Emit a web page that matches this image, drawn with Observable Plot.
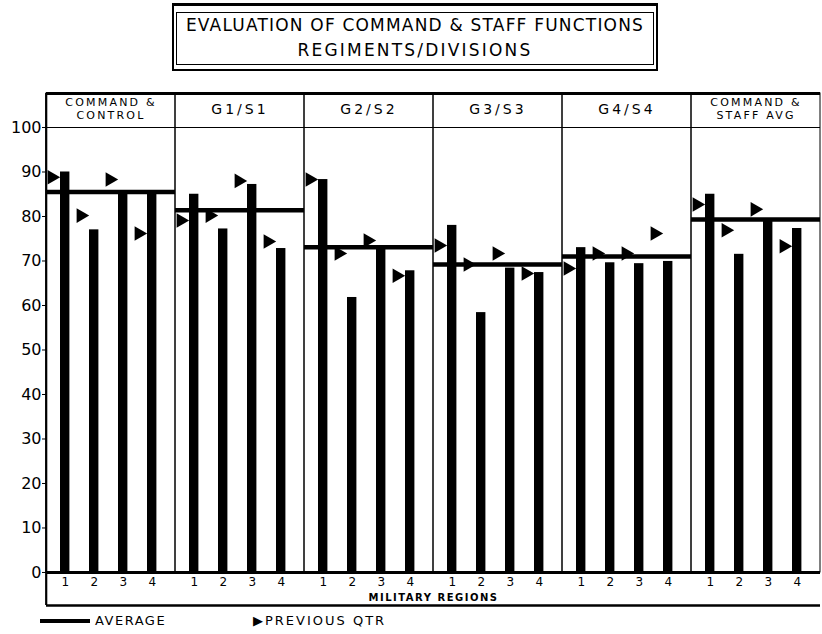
<!DOCTYPE html>
<html>
<head>
<meta charset="utf-8">
<script src="https://cdn.jsdelivr.net/npm/d3@7"></script>
<script src="https://cdn.jsdelivr.net/npm/@observablehq/plot@0.6"></script>
<style>
  html, body { margin: 0; padding: 0; background: #fff; }
  body { width: 822px; height: 634px; position: relative; overflow: hidden; font-family: "DejaVu Sans", sans-serif; color: #000; }
  #title { position: absolute; left: 172px; top: 3px; width: 486px; height: 68px; box-sizing: border-box; border: 2px solid #000; border-top-width: 3px; }
  #title .inner { position: absolute; left: 2px; right: 2px; top: 6px; bottom: 4px; border: 1px solid #000; }
  #title .l { position: absolute; left: 0; right: 0; text-align: center; font-size: 17px; line-height: 20px; white-space: nowrap; }
  #chart { position: absolute; left: 0; top: 75px; }
  #legend { position: absolute; left: 0; top: 612px; width: 822px; height: 20px; font-size: 13px; }
  #legend .line { position: absolute; left: 40px; top: 7px; width: 50px; height: 4px; background: #000; }
  #legend .t { position: absolute; top: 0; line-height: 18px; letter-spacing: 1.5px; white-space: nowrap; }
  [aria-description="panel-g"] text { letter-spacing: 3px; }
  [aria-description="panel-two-line"] text { letter-spacing: 2.2px; }
  [aria-description="region-axis-label"] text { letter-spacing: 1.5px; }
</style>
</head>
<body>
<div id="title"><div class="inner">
  <div class="l" style="top:2px;letter-spacing:1.2px">EVALUATION OF COMMAND &amp; STAFF FUNCTIONS</div>
  <div class="l" style="top:27px;letter-spacing:2.2px">REGIMENTS/DIVISIONS</div>
</div></div>
<div id="chart"></div>
<div id="legend">
  <div class="line"></div>
  <div class="t" style="left:95px">AVERAGE</div>
  <div class="t" style="left:253px;letter-spacing:2px">&#9654;PREVIOUS QTR</div>
</div>
<script>
// ---- data ----
const panels = ["COMMAND & CONTROL", "G1/S1", "G2/S2", "G3/S3", "G4/S4", "COMMAND & STAFF AVG"];
const panelHeaders = ["COMMAND &\nCONTROL", "G1/S1", "G2/S2", "G3/S3", "G4/S4", "COMMAND &\nSTAFF AVG"];
const regions = ["1", "2", "3", "4"];
const current = [
  [90, 77, 85.8, 85.8],
  [85, 77.2, 87.2, 72.8],
  [88.3, 61.8, 73.2, 67.8],
  [78, 58.4, 68.4, 67.4],
  [73, 69.6, 69.4, 69.9],
  [85, 71.5, 79.1, 77.3]
];
const previous = [
  [88.8, 80.2, 88.3, 76.2],
  [79.1, 80.2, 88, 74.4],
  [88.3, 71.7, 74.6, 66.7],
  [73.5, 69.2, 71.7, 67.2],
  [68.3, 71.7, 71.7, 76.2],
  [82.7, 76.9, 81.6, 73.3]
];
const averages = [85.5, 81.4, 73.1, 69.2, 71, 79.3];
const yTicks = [0, 10, 20, 30, 40, 50, 60, 70, 80, 90, 100];
const axisTitle = "MILITARY REGIONS";

// ---- tables built from the arrays ----
const rows = [];
panels.forEach((p, i) => regions.forEach((r, j) => rows.push({panel: p, region: r, value: current[i][j], prev: previous[i][j]})));
const avgRows = panels.map((p, i) => ({panel: p, avg: averages[i]}));
const headerRows = panels.map((p, i) => ({panel: p, label: panelHeaders[i]}));
const yTop = 107.64, yBottom = -7.42;
const halfBand = (778 / 6) / 4.38 / 2;

const chart = Plot.plot({
  width: 822,
  height: 540,
  marginTop: 18,
  marginBottom: 10,
  marginLeft: 44,
  marginRight: 0,
  style: {fontFamily: "DejaVu Sans, sans-serif", background: "#fff", color: "#000"},
  fx: {domain: panels, padding: 0, axis: null},
  x: {domain: regions, paddingInner: 0, paddingOuter: 0.19, align: 0, axis: null},
  y: {domain: [yBottom, yTop], axis: null},
  marks: [
    // panel boxes (value area + header)
    Plot.rect(panels, {fx: d => d, y1: 0, y2: yTop, fill: "none", stroke: "#000", strokeWidth: 1}),
    Plot.ruleY([yTop], {stroke: "#000", strokeWidth: 3}),
    Plot.ruleY([100], {stroke: "#000", strokeWidth: 1.2}),
    Plot.ruleY([yBottom], {stroke: "#000", strokeWidth: 2.5}),
    // outer left border, full height of the box
    Plot.ruleX([regions[0]], {fx: () => panels[0], x: d => d, y1: yBottom, y2: yTop, dx: -halfBand, stroke: "#000", strokeWidth: 2.2}),
    Plot.axisY({ticks: yTicks, tickSize: 4, tickPadding: 1, fontSize: 16, label: null}),
    // bars: current quarter
    Plot.rectY(rows, {fx: "panel", x: "region", y1: 0, y2: "value", fill: "#000", insetLeft: 14, insetRight: 5.6}),
    // average per panel
    Plot.ruleY(avgRows, {fx: "panel", y: "avg", stroke: "#000", strokeWidth: 4.5}),
    // previous quarter markers
    Plot.dot(rows, {fx: "panel", x: "region", y: "prev", symbol: "triangle", r: 5.4, rotate: 90, fill: "#000", stroke: "none", dx: -9.2}),
    Plot.ruleY([0], {stroke: "#000", strokeWidth: 3}),
    // panel headers
    Plot.text(headerRows.filter(d => d.label.includes("\n")), {fx: "panel", text: "label", frameAnchor: "top", lineAnchor: "middle", dy: 15, fontSize: 11, lineHeight: 1.2, ariaDescription: "panel-two-line"}),
    Plot.text(headerRows.filter(d => !d.label.includes("\n")), {fx: "panel", text: "label", frameAnchor: "top", lineAnchor: "middle", dy: 16, fontSize: 14, ariaDescription: "panel-g"}),
    // region labels
    Plot.text(rows, {fx: "panel", x: "region", text: "region", frameAnchor: "bottom", lineAnchor: "middle", dy: -23, dx: 4.2, fontSize: 12}),
    Plot.text([axisTitle], {fx: () => panels[3], text: d => d, frameAnchor: "bottom-left", textAnchor: "middle", lineAnchor: "middle", dy: -7.5, fontSize: 10, fontWeight: "bold", ariaDescription: "region-axis-label"})
  ]
});
document.getElementById("chart").appendChild(chart);
</script>
</body>
</html>
